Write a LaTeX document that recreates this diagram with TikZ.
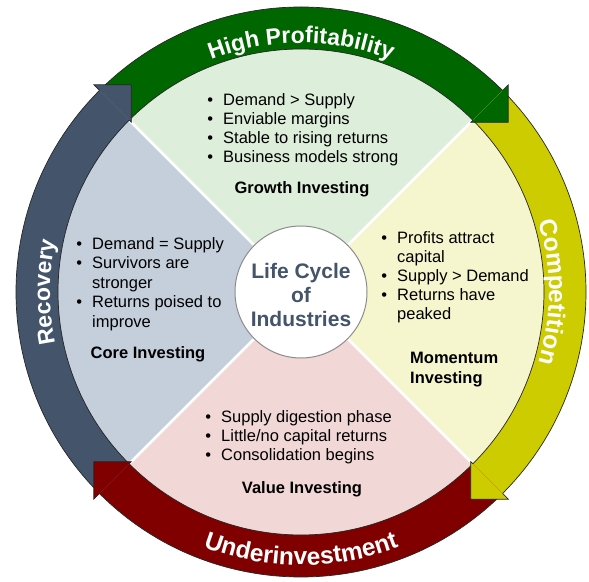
\documentclass[tikz,border=0pt]{standalone}
\usepackage{fontspec}
\setmainfont{Liberation Sans}
\usetikzlibrary{calc,decorations.text}

\definecolor{profit}{HTML}{006600}
\definecolor{compet}{HTML}{CCCC00}
\definecolor{under}{HTML}{800000}
\definecolor{recov}{HTML}{44546A}
\definecolor{qgreen}{HTML}{DDEEDA}
\definecolor{qyellow}{HTML}{F5F5CE}
\definecolor{qpink}{HTML}{F2D7D7}
\definecolor{qblue}{HTML}{C4CFDB}
\definecolor{hubtext}{HTML}{44546A}
\definecolor{hubline}{HTML}{8C8C8C}

% fonts used for the words written along the ring arrows
\newcommand{\ringfont}{\bfseries\fontsize{23}{23}\selectfont\color{white}}
\newcommand{\ringfontbig}{\bfseries\fontsize{24.5}{24.5}\selectfont\color{white}}

% ring radii: band outer/inner, arrow-head barbs, head mid radius, head length
\def\ringro{285}
\def\ringri{243}
\def\ringbo{293}
\def\ringbi{240}
\def\ringbm{266.5}
\def\ringtp{26.5}

% band of a ring arrow, clockwise from #2 to #3
\newcommand{\ringband}[3]{%
  \fill[#1] ($(C)+(#2:\ringro)$) arc[start angle=#2,end angle=#3,radius=\ringro]
    -- ($(C)+(#3:\ringri)$) arc[start angle=#3,end angle=#2,radius=\ringri] -- cycle;
  \draw[ringedge] ($(C)+(#2:\ringro)$) arc[start angle=#2,end angle=#3,radius=\ringro];
  \draw[ringedge] ($(C)+(#2:\ringri)$) arc[start angle=#2,end angle=#3,radius=\ringri];
}
% arrow head of a ring arrow whose band ends at angle #2
\newcommand{\ringhead}[2]{%
  \filldraw[fill=#1,ringedge] ($(C)+(#2:\ringro)$) -- ($(C)+(#2:\ringbo)$)
    -- ($(C)+(#2:\ringbm)+(#2-90:\ringtp)$) -- ($(C)+(#2:\ringbi)$) -- ($(C)+(#2:\ringri)$);
}

\begin{document}
\begin{tikzpicture}[x=1pt,y=1pt,
  ringedge/.style={draw=black!85,line width=0.7pt,line join=miter},
  ptlist/.style={inner sep=0pt,anchor=base west,text=black,
    font=\fontsize{16.5}{19}\selectfont},
  heading/.style={inner sep=0pt,anchor=base,text=black,
    font=\bfseries\fontsize{16.5}{19}\selectfont},
  sep/.style={white,line width=2.5pt}]
\useasboundingbox (0,0) rectangle (589,581);
\coordinate (C) at (301,289);

% four coloured quadrants of the inner disk
\fill[qgreen]  (C) -- ($(C)+(45:246)$)  arc[start angle=45,end angle=135,radius=246] -- cycle;
\fill[qblue]   (C) -- ($(C)+(135:246)$) arc[start angle=135,end angle=225,radius=246] -- cycle;
\fill[qpink]   (C) -- ($(C)+(225:246)$) arc[start angle=225,end angle=315,radius=246] -- cycle;
\fill[qyellow] (C) -- ($(C)+(315:246)$) arc[start angle=315,end angle=405,radius=246] -- cycle;
\foreach \a in {45,135,225,315}
  \draw[sep] (C) -- ($(C)+(\a:246)$);

% ring arrows: bands first, then heads over the following tails
\ringband{profit}{135}{45}
\ringband{compet}{45}{-45}
\ringband{under}{-45}{-135}
\ringband{recov}{225}{135}
\ringhead{profit}{45}
\ringhead{compet}{-45}
\ringhead{under}{225}
\ringhead{recov}{135}

% words along the ring
\path[decorate,decoration={text along path,text align=center,
  text={|\ringfont|High Profitability}}]
  ($(C)+(135:249)$) arc[start angle=135,end angle=45,radius=249];
\path[decorate,decoration={text along path,text align=center,
  text={|\ringfontbig|Competition}}]
  ($(C)+(45:248)$) arc[start angle=45,end angle=-45,radius=248];
\path[decorate,decoration={text along path,text align=center,
  text={|\ringfontbig|Underinvestment}}]
  ($(C)+(225:273)$) arc[start angle=225,end angle=315,radius=273];
\path[decorate,decoration={text along path,text align=center,
  text={|\ringfont|Recovery}}]
  ($(C)+(225:251)$) arc[start angle=225,end angle=135,radius=251];

% hub
\node[circle,minimum size=132pt,inner sep=0pt,fill=white,draw=hubline,line width=1pt] (hub) at (C) {};
\node[align=center,text=hubtext,inner sep=0pt,
  font=\bfseries\fontsize{21}{24}\selectfont] (hubtitle) at ([yshift=-3pt]hub.center)
  {Life Cycle\\of\\Industries};

% quadrant texts
\node[ptlist] (growthpts) at (207.2,475.7) {\begin{tabular}[t]{@{}c@{\hspace{10pt}}l@{}}
  \textbullet & Demand > Supply\\
  \textbullet & Enviable margins\\
  \textbullet & Stable to rising returns\\
  \textbullet & Business models strong
\end{tabular}};
\node[heading] (growth) at (302,387.7) {Growth Investing};

\node[ptlist,font=\fontsize{16.5}{19.4}\selectfont] (corepts) at (76.2,331.5) {\begin{tabular}[t]{@{}c@{\hspace{10pt}}l@{}}
  \textbullet & Demand = Supply\\
  \textbullet & Survivors are\\
              & stronger\\
  \textbullet & Returns poised to\\
              & improve
\end{tabular}};
\node[heading] (core) at (148,222.5) {Core Investing};

\node[ptlist] (momentumpts) at (381.2,337.5) {\begin{tabular}[t]{@{}c@{\hspace{10pt}}l@{}}
  \textbullet & Profits attract\\
              & capital\\
  \textbullet & Supply > Demand\\
  \textbullet & Returns have\\
              & peaked
\end{tabular}};
\node[heading,anchor=base west,font=\bfseries\fontsize{16.5}{20}\selectfont] (momentum) at (410,217.5)
  {\begin{tabular}[t]{@{}l@{}}Momentum\\Investing\end{tabular}};

\node[ptlist] (valuepts) at (205.2,158.5) {\begin{tabular}[t]{@{}c@{\hspace{10pt}}l@{}}
  \textbullet & Supply digestion phase\\
  \textbullet & Little/no capital returns\\
  \textbullet & Consolidation begins
\end{tabular}};
\node[heading] (value) at (302,87.5) {Value Investing};
\end{tikzpicture}
\end{document}
